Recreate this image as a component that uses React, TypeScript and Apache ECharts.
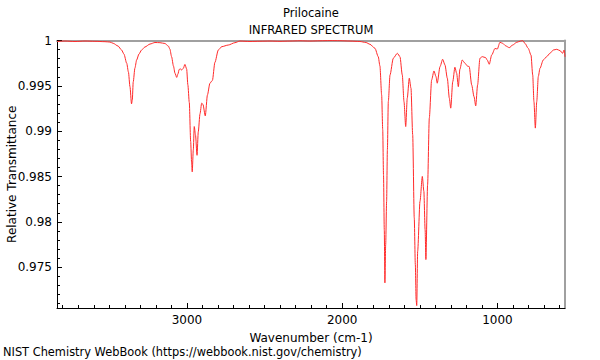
import React, { useEffect, useRef } from "react";
import * as echarts from "echarts";

const wavenumbers = [
  3837, 3786, 3721, 3657, 3593, 3528, 3496, 3475, 3444, 3421, 3406, 3388, 3377, 3367, 3357, 3352, 3346, 3335, 3324, 3309,
  3292, 3271, 3238, 3206, 3174, 3142, 3120, 3110, 3099, 3087, 3077, 3066, 3058, 3050, 3042, 3034, 3024, 3013, 3002, 2994,
  2985, 2976, 2970, 2966, 2959, 2953, 2945, 2935, 2927, 2916, 2905, 2897, 2882, 2868, 2852, 2836, 2820, 2798, 2776, 2734,
  2691, 2659, 2594, 2530, 2465, 2401, 2337, 2272, 2208, 2143, 2079, 2015, 1950, 1886, 1847, 1821, 1789, 1768, 1757, 1746,
  1739, 1734, 1729, 1725, 1720, 1714, 1709, 1703, 1692, 1671, 1645, 1628, 1613, 1602, 1591, 1581, 1568, 1557, 1546, 1536,
  1529, 1524, 1520, 1514, 1499, 1484, 1474, 1466, 1461, 1450, 1439, 1424, 1409, 1396, 1388, 1370, 1353, 1338, 1323, 1310,
  1301, 1288, 1274, 1263, 1252, 1242, 1227, 1209, 1194, 1182, 1166, 1151, 1140, 1128, 1113, 1098, 1076, 1066, 1053, 1037,
  1016, 1001, 984, 967, 945, 924, 902, 876, 851, 838, 823, 802, 784, 773, 765, 756, 747, 737, 726, 705,
  683, 662, 640, 618, 597, 580, 571, 565,
];

const transmittance = [
  0.99989, 0.99994, 0.99989, 0.99994, 0.99991, 0.99987, 0.99983, 0.99969, 0.99939, 0.99895, 0.99851, 0.99749, 0.99653, 0.99491, 0.99301, 0.99345, 0.99543, 0.99697, 0.99785, 0.99851,
  0.99895, 0.99928, 0.99961, 0.99978, 0.99976, 0.99967, 0.99939, 0.99906, 0.99822, 0.99719, 0.99639, 0.99593, 0.99631, 0.99681, 0.99686, 0.99675, 0.99692, 0.99736, 0.99686, 0.9951,
  0.99318, 0.98886, 0.98652, 0.98552, 0.98795, 0.99051, 0.9896, 0.98734, 0.98993, 0.99191, 0.99309, 0.99296, 0.99169, 0.994, 0.99529, 0.9956, 0.99758, 0.99895, 0.99932, 0.9995,
  0.99976, 0.99994, 0.99989, 0.99992, 0.99994, 0.99991, 0.99994, 0.99997, 0.99994, 0.99997, 0.99999, 0.99998, 0.99994, 0.99989, 0.99978, 0.99958, 0.99914, 0.99822, 0.99719, 0.994,
  0.99015, 0.98519, 0.97914, 0.97327, 0.97749, 0.98226, 0.98795, 0.99326, 0.9962, 0.99804, 0.99859, 0.99822, 0.9962, 0.99326, 0.99051, 0.99364, 0.99584, 0.99474, 0.9896, 0.98046,
  0.97529, 0.97143, 0.97077, 0.97675, 0.98225, 0.98501, 0.98336, 0.97914, 0.97584, 0.98409, 0.99144, 0.99565, 0.99664, 0.99602, 0.99529, 0.99712, 0.99793, 0.9973, 0.99584, 0.99364,
  0.99254, 0.99546, 0.99705, 0.99639, 0.99491, 0.99683, 0.99785, 0.99749, 0.99719, 0.99712, 0.9951, 0.99381, 0.99279, 0.9951, 0.99804, 0.99822, 0.99811, 0.99785, 0.99738, 0.9984,
  0.99912, 0.99906, 0.9998, 0.99969, 0.99939, 0.99921, 0.9995, 0.9998, 0.99994, 0.99999, 0.99969, 0.99914, 0.9984, 0.9962, 0.99326, 0.99034, 0.99326, 0.99602, 0.99694, 0.99785,
  0.99822, 0.99859, 0.99895, 0.99903, 0.99888, 0.99859, 0.99895, 0.9982,
];

const xMajorTicks = [1000, 2000, 3000];
const xMinorTicks = [
  600, 700, 800, 900, 1100, 1200, 1300, 1400, 1500, 1600, 1700, 1800, 1900, 2100, 2200, 2300, 2400, 2500, 2600, 2700,
  2800, 2900, 3100, 3200, 3300, 3400, 3500, 3600, 3700, 3800,
];
const yMajorTicks = [0.975, 0.98, 0.985, 0.99, 0.995, 1];
const yMinorTicks = [
  0.971, 0.972, 0.973, 0.974, 0.976, 0.977, 0.978, 0.979, 0.981, 0.982, 0.983, 0.984, 0.986, 0.987, 0.988, 0.989,
  0.991, 0.992, 0.993, 0.994, 0.996, 0.997, 0.998, 0.999,
];

const X_MIN = 565;
const X_MAX = 3837;
const Y_MIN = 0.9705;
const Y_MAX = 1;

const FONT = "DejaVu Sans";

export default function App() {
  const ref = useRef<HTMLDivElement>(null);

  useEffect(() => {
    document.body.style.margin = "0";
    if (!ref.current) return;
    const chart = echarts.init(ref.current, undefined, { renderer: "svg" });
    const data = wavenumbers.map((w, i) => [w, transmittance[i]]);
    const baseX = { type: "value", min: X_MIN, max: X_MAX, inverse: true, splitLine: { show: false } };
    const baseY = { type: "value", min: Y_MIN, max: Y_MAX, splitLine: { show: false } };
    chart.setOption({
      animation: false,
      backgroundColor: "#ffffff",
      grid: { left: 57, right: 35, top: 40.5, bottom: 52, containLabel: false, outerBoundsMode: "none" },
      xAxis: [
        {
          ...baseX,
          position: "bottom",
          axisLine: { show: true, onZero: false, lineStyle: { color: "#000", width: 1 } },
          axisTick: { show: true, inside: true, length: 5, customValues: xMajorTicks, lineStyle: { color: "#000" } },
          axisLabel: {
            show: true,
            customValues: xMajorTicks,
            color: "#000",
            fontSize: 12,
            fontFamily: FONT,
            margin: 6,
            formatter: (v: number) => String(v),
          },
          name: "Wavenumber (cm-1)",
          nameLocation: "middle",
          nameGap: 24,
          nameMoveOverlap: false,
          nameTextStyle: { color: "#000", fontSize: 12, fontFamily: FONT },
        },
        {
          ...baseX,
          position: "bottom",
          axisLine: { show: false },
          axisTick: { show: true, inside: true, length: 3, customValues: xMinorTicks, lineStyle: { color: "#000" } },
          axisLabel: { show: false },
        },
        {
          ...baseX,
          position: "top",
          axisLine: { show: true, onZero: false, lineStyle: { color: "#a0a0a0", width: 2 } },
          axisTick: { show: false },
          axisLabel: { show: false },
        },
      ],
      yAxis: [
        {
          ...baseY,
          position: "left",
          axisLine: { show: true, onZero: false, lineStyle: { color: "#000", width: 1 } },
          axisTick: { show: true, inside: true, length: 5, customValues: yMajorTicks, lineStyle: { color: "#000" } },
          axisLabel: {
            show: true,
            customValues: yMajorTicks,
            color: "#000",
            fontSize: 12,
            fontFamily: FONT,
            margin: 5,
            formatter: (v: number) => String(Number(v.toFixed(3))),
          },
          name: "Relative Transmittance",
          nameLocation: "middle",
          nameGap: 39,
          nameMoveOverlap: false,
          nameTextStyle: { color: "#000", fontSize: 12, fontFamily: FONT },
        },
        {
          ...baseY,
          position: "left",
          axisLine: { show: false },
          axisTick: { show: true, inside: true, length: 3, customValues: yMinorTicks, lineStyle: { color: "#000" } },
          axisLabel: { show: false },
        },
        {
          ...baseY,
          position: "right",
          axisLine: { show: true, onZero: false, lineStyle: { color: "#a0a0a0", width: 2 } },
          axisTick: { show: false },
          axisLabel: { show: false },
        },
      ],
      graphic: [
        {
          type: "text",
          x: 311,
          y: 13,
          style: { text: "Prilocaine", fill: "#000", font: `11.5px "${FONT}"`, textAlign: "center", textVerticalAlign: "middle" },
        },
        {
          type: "text",
          x: 311,
          y: 30,
          style: { text: "INFRARED SPECTRUM", fill: "#000", font: `11.5px "${FONT}"`, textAlign: "center", textVerticalAlign: "middle" },
        },
        {
          type: "text",
          x: 3,
          y: 352,
          style: {
            text: "NIST Chemistry WebBook (https://webbook.nist.gov/chemistry)",
            fill: "#000",
            font: `11.4px "${FONT}"`,
            textAlign: "left",
            textVerticalAlign: "middle",
          },
        },
      ],
      series: [
        {
          type: "line",
          xAxisIndex: 0,
          yAxisIndex: 0,
          data,
          showSymbol: false,
          symbol: "none",
          smooth: 0.25,
          smoothMonotone: "x",
          clip: true,
          lineStyle: { color: "#ff2a2a", width: 1 },
        },
      ],
    });
    return () => chart.dispose();
  }, []);

  return <div ref={ref} style={{ width: 600, height: 360 }} />;
}
